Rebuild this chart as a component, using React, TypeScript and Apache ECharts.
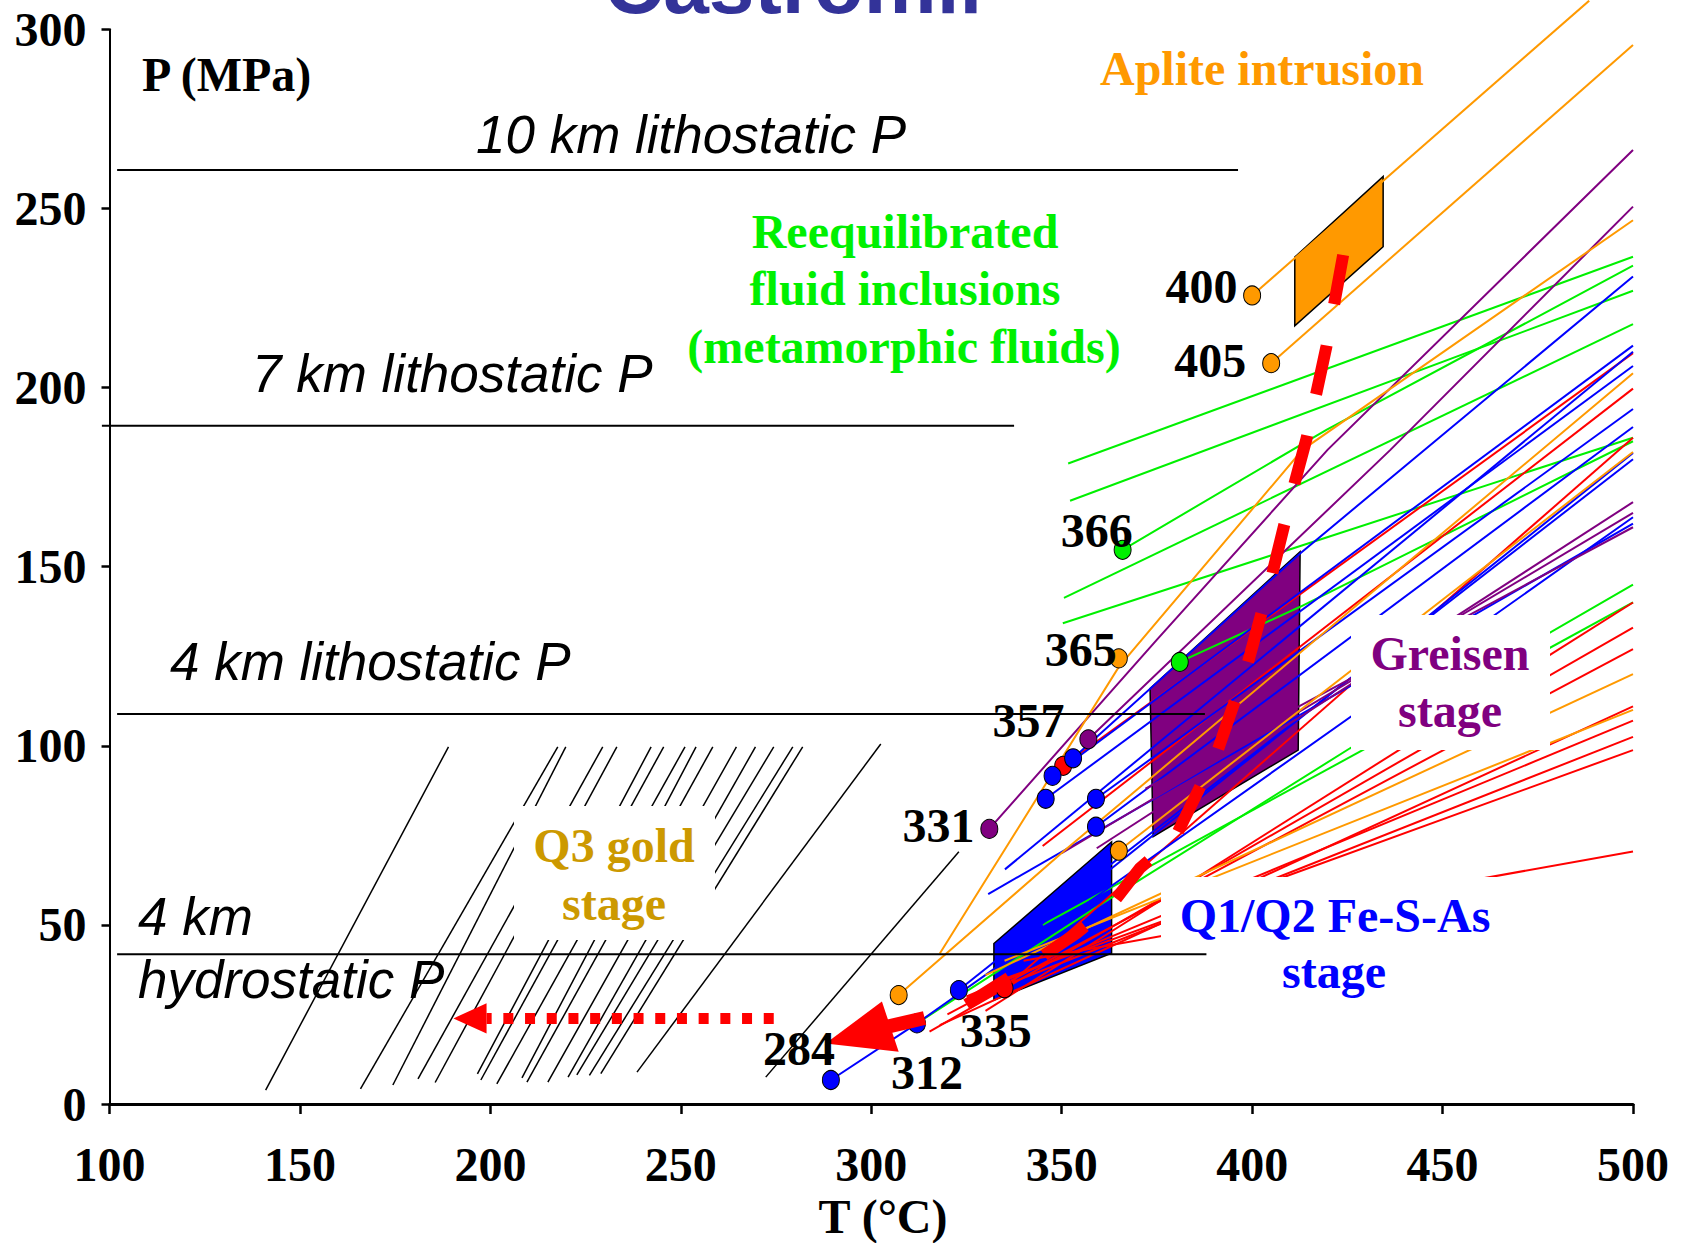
import React, { useEffect, useRef } from "react";
import * as echarts from "echarts";

const SERIF = "'Liberation Serif', 'Times New Roman', Times, serif";
const SANS = "'Liberation Sans', Arial, Helvetica, sans-serif";
const GREEN = "#00f000";

// Axis ranges
const T_MIN = 100;
const T_MAX = 500;
const T_STEP = 50;
const P_MIN = 0;
const P_MAX = 300;
const P_STEP = 50;

// Depth reference pressures (MPa) with the temperature span of each line (°C)
const DEPTH_P = [260.7, 189.3, 108.9, 41.8];
const DEPTH_T_FROM = [102, 98, 102, 102];
const DEPTH_T_TO = [396.3, 337.5, 387.6, 388];

// Q3 gold stage isochores: [T start, P start, T end, P end]
const Q3_ISOCHORES = [
  [141.0, 3.9, 189.0, 99.7],
  [165.9, 4.2, 217.7, 99.7],
  [174.4, 5.3, 219.8, 99.7],
  [181.0, 7.0, 229.5, 99.7],
  [185.5, 6.0, 233.2, 99.7],
  [196.6, 8.4, 242.2, 99.7],
  [197.5, 6.7, 245.5, 99.7],
  [201.7, 5.6, 251.1, 99.7],
  [208.3, 7.3, 254.0, 99.7],
  [209.6, 6.1, 258.4, 99.7],
  [215.1, 6.1, 264.6, 99.7],
  [220.4, 7.5, 269.6, 99.7],
  [222.7, 8.1, 274.4, 99.7],
  [226.0, 8.0, 279.4, 99.7],
  [229.0, 8.5, 282.0, 99.7],
  [238.5, 8.9, 302.5, 100.5],
  [272.3, 7.5, 323.0, 70.4],
];

// Colour-coded isochores as polylines of [T, P]
const ORANGE_ISOCHORES = [
  [[400, 225.7], [488.5, 308]],
  [[405, 206.8], [500, 295.6]],
  [[318, 42], [365, 122], [413.2, 182.6], [500, 246.7]],
  [[365, 70.7], [500, 182]],
  [[307.2, 30.4], [350.9, 70.9], [500, 204]],
  [[330, 36], [500, 120]],
  [[335, 40], [500, 110]],
];
const PURPLE_ISOCHORES = [
  [[331, 76.8], [374.9, 129.5], [419.8, 182.6], [500, 266.3]],
  [[357, 101.8], [436.3, 182.6], [500, 250.5]],
  [[359.2, 71.4], [500, 168]],
  [[372, 88], [500, 161]],
  [[350, 70], [500, 165]],
];
const GREEN_ISOCHORES = [
  [[351.7, 178.8], [500, 236.5]],
  [[352.2, 168.4], [500, 227]],
  [[366, 154.7], [419.5, 188.2], [500, 234]],
  [[350.6, 141.3], [500, 217.7]],
  [[350.3, 134.2], [500, 186]],
  [[381, 123.4], [412.6, 138.8], [500, 185]],
  [[312, 22.5], [361.4, 56.5], [425.7, 99.3], [500, 145]],
  [[345, 50], [500, 140]],
];
const BLUE_ISOCHORES = [
  [[353, 96.5], [412.6, 153.7], [500, 231]],
  [[347.6, 91.6], [500, 211.7]],
  [[345.8, 85.2], [500, 206]],
  [[359, 85.2], [500, 194]],
  [[359, 77.4], [500, 189]],
  [[323, 31.8], [500, 181.7]],
  [[289.4, 6.7], [312, 22.5], [500, 163.8]],
  [[335.1, 65.5], [500, 210]],
  [[330.7, 58.6], [500, 162]],
  [[340, 48], [500, 180]],
];
const RED_ISOCHORES = [
  [[350.4, 94.4], [500, 209.6]],
  [[345, 72], [500, 199.7]],
  [[335, 32.3], [500, 186]],
  [[315.3, 20.2], [500, 133]],
  [[330, 26], [500, 140]],
  [[320, 25], [500, 127]],
  [[325, 30], [500, 107]],
  [[330, 31], [500, 102.5]],
  [[335, 35], [500, 98.8]],
  [[340, 40], [500, 70.5]],
  [[318, 22], [500, 111]],
];

// Homogenisation points [T, P]; the *_LABELLED lists give the indices whose Th is printed
const ORANGE_DOTS = [[400, 225.7], [405, 206.8], [365, 124.4], [365, 70.7], [307.2, 30.4]];
const ORANGE_LABELLED = [0, 1, 2];
const GREEN_DOTS = [[366, 154.7], [381, 123.4]];
const GREEN_LABELLED = [0];
const PURPLE_DOTS = [[331, 76.8], [357, 101.8]];
const PURPLE_LABELLED = [0, 1];
const RED_DOTS = [[350.4, 94.4], [335, 32.3]];
const RED_LABELLED = [1];
const BLUE_DOTS = [[353, 96.5], [347.6, 91.6], [345.8, 85.2], [359, 85.2], [359, 77.4], [312, 22.5], [323, 31.8], [289.4, 6.7]];
const BLUE_LABELLED = [5];

// Stage fields
const APLITE_FIELD = [[411.2, 236.4], [434.4, 258.9], [434.4, 239.3], [411.2, 217.2]];
const GREISEN_FIELD = [[373.2, 116], [412.6, 154.2], [412.1, 98.8], [374, 74.6]];
const Q12_FIELD = [[332.2, 29], [332.2, 44.8], [363.1, 73.2], [363.1, 42.1]];

// Fluid evolution path and the Q3 pressure drop
const EVOLUTION_PATH = [
  [423.9, 237], [419.5, 211.4], [414.3, 185.8], [410.8, 171.9], [405.1, 147.2],
  [398.6, 122.1], [390.7, 97.9], [379.7, 74.2], [370.5, 65.8], [362.7, 55.1],
  [353.9, 47.7], [343.5, 40.2], [322.7, 26.2],
];
const EVOLUTION_SHAFT = [[303.5, 21.4], [314, 24]];
const EVOLUTION_HEAD = [[288, 16.9], [302.8, 28.6], [307.2, 14.6]];
const DROP_PATH = [[274.4, 23.9], [199, 23.9]];
const DROP_HEAD = [[190.3, 23.9], [199, 28.1], [199, 19.7]];

// Th label placement relative to its point, keyed by Th
const LABEL_OFFSETS: Record<number, number[]> = {
  400: [-5.7, -8.7],
  405: [-16, -2.8],
  366: [19, -19.5],
  365: [7, -8.5],
  357: [-14.9, -18.8],
  331: [-5.9, -3.5],
  312: [55, 48.8],
  335: [36.2, 42.2],
};

const FS = 48; // bold serif size used for ticks and annotations

function linesSeries(polylines: number[][][], color: string, width: number, z: number, dash?: number[]) {
  return {
    type: "lines",
    coordinateSystem: "cartesian2d",
    polyline: true,
    silent: true,
    clip: false,
    z,
    lineStyle: { color, width, opacity: 1, type: dash || "solid", cap: "butt" },
    data: polylines.map((coords) => ({ coords })),
  };
}

function dotSeries(points: number[][], labelled: number[], color: string) {
  return {
    type: "scatter",
    silent: true,
    z: 5,
    symbol: "circle",
    symbolSize: [17, 19],
    itemStyle: { color, borderColor: "#000", borderWidth: 1, opacity: 1 },
    label: {
      show: false,
      position: "left",
      distance: 0,
      formatter: (p: any) => String(p.value[0]),
      fontSize: FS,
      fontWeight: "bold",
      fontFamily: SERIF,
      color: "#000",
    },
    data: points.map((pt, i) =>
      labelled.includes(i)
        ? { value: pt, label: { show: true, offset: LABEL_OFFSETS[pt[0]] } }
        : { value: pt }
    ),
  };
}

function polygonSeries(shapes: { pts: number[][]; fill: string; stroke: string }[], z: number) {
  return {
    type: "custom",
    coordinateSystem: "cartesian2d",
    silent: true,
    clip: false,
    z,
    data: shapes.map((s) => s.pts[0]),
    renderItem: (params: any, api: any) => {
      const s = shapes[params.dataIndex];
      return {
        type: "polygon",
        shape: { points: s.pts.map((p) => api.coord(p)) },
        style: { fill: s.fill, stroke: s.stroke, lineWidth: s.stroke === "none" ? 0 : 1.5 },
      };
    },
  };
}

function txt(text: string, x: number, y: number, opts: any) {
  return {
    type: "text",
    z: 101,
    x,
    y,
    silent: true,
    style: {
      text,
      textAlign: opts.align || "left",
      align: opts.align || "left",
      textVerticalAlign: "middle",
      verticalAlign: "middle",
      fill: opts.color || "#000",
      fontSize: opts.size,
      fontFamily: opts.family,
      fontWeight: opts.weight || "normal",
      fontStyle: opts.style || "normal",
      lineHeight: opts.lineHeight,
    },
  };
}

function whiteBox(x: number, y: number, w: number, h: number) {
  return { type: "rect", z: 100, silent: true, shape: { x, y, width: w, height: h }, style: { fill: "#fff" } };
}

function buildOption() {
  const depthLines = DEPTH_P.map((p, i) => [[DEPTH_T_FROM[i], p], [DEPTH_T_TO[i], p]]);
  const q3Lines = Q3_ISOCHORES.map((s) => [[s[0], s[1]], [s[2], s[3]]]);

  const italic = { size: 53, family: SANS, style: "italic" };
  const bold = (color: string) => ({ size: FS, family: SERIF, weight: "bold", color });
  const boldC = (color: string) => ({ size: FS, family: SERIF, weight: "bold", color, align: "center" });

  return {
    animation: false,
    backgroundColor: "#fff",
    grid: { left: 109.5, top: 29.3, right: 51, bottom: 139, containLabel: false },
    xAxis: {
      type: "value",
      min: T_MIN,
      max: T_MAX,
      interval: T_STEP,
      axisLine: { show: true, onZero: false, lineStyle: { color: "#000", width: 3 } },
      axisTick: { show: true, length: 10, lineStyle: { color: "#000", width: 2.5 } },
      axisLabel: { fontSize: FS, fontWeight: "bold", fontFamily: SERIF, color: "#000", margin: 36 },
      splitLine: { show: false },
    },
    yAxis: {
      type: "value",
      min: P_MIN,
      max: P_MAX,
      interval: P_STEP,
      axisLine: { show: true, onZero: false, lineStyle: { color: "#000", width: 2 } },
      axisTick: { show: true, length: 8, lineStyle: { color: "#000", width: 2.5 } },
      axisLabel: { fontSize: FS, fontWeight: "bold", fontFamily: SERIF, color: "#000", margin: 23 },
      splitLine: { show: false },
    },
    series: [
      polygonSeries(
        [
          { pts: APLITE_FIELD, fill: "#ff9900", stroke: "#000" },
          { pts: GREISEN_FIELD, fill: "#800080", stroke: "#000" },
          { pts: Q12_FIELD, fill: "#0000ff", stroke: "#000" },
        ],
        1
      ),
      linesSeries(q3Lines, "#000", 1.5, 2),
      linesSeries(GREEN_ISOCHORES, GREEN, 2, 3),
      linesSeries(RED_ISOCHORES, "#ff0000", 2, 3),
      linesSeries(BLUE_ISOCHORES, "#0000ff", 2, 3),
      linesSeries(PURPLE_ISOCHORES, "#800080", 2, 3),
      linesSeries(ORANGE_ISOCHORES, "#ff9900", 2, 3),
      // depth lines sit above the label panels
      linesSeries(depthLines, "#000", 2, 150),
      dotSeries(ORANGE_DOTS, ORANGE_LABELLED, "#ff9900"),
      dotSeries(GREEN_DOTS, GREEN_LABELLED, GREEN),
      dotSeries(PURPLE_DOTS, PURPLE_LABELLED, "#800080"),
      dotSeries(RED_DOTS, RED_LABELLED, "#ff0000"),
      dotSeries(BLUE_DOTS, BLUE_LABELLED, "#0000ff"),
      linesSeries([EVOLUTION_PATH], "#ff0000", 12, 6, [50, 42]),
      linesSeries([EVOLUTION_SHAFT], "#ff0000", 14, 6),
      linesSeries([DROP_PATH], "#ff0000", 11, 6, [10, 11.7]),
      polygonSeries(
        [
          { pts: EVOLUTION_HEAD, fill: "#ff0000", stroke: "none" },
          { pts: DROP_HEAD, fill: "#ff0000", stroke: "none" },
        ],
        6
      ),
    ],
    graphic: [
      whiteBox(514, 806, 201, 134),
      whiteBox(1351, 615, 199, 135),
      whiteBox(1161, 877, 480, 135),
      txt("Castromil", 604, -15.1, { size: 82, family: SANS, weight: "bold", color: "#333399" }),
      txt("P (MPa)", 142, 74.5, { size: FS, family: SERIF, weight: "bold" }),
      txt("T (°C)", 883, 1216, { size: FS, family: SERIF, weight: "bold", align: "center", lineHeight: 40 }),
      txt("10 km lithostatic P", 476, 134.6, italic),
      txt("7 km lithostatic P", 252, 373.6, italic),
      txt("4 km lithostatic P", 170, 661.6, italic),
      txt("4 km", 138, 916.6, italic),
      txt("hydrostatic P", 138, 979.6, italic),
      txt("Aplite intrusion", 1100, 68.8, bold("#ff9900")),
      txt("Reequilibrated", 905, 231.8, boldC(GREEN)),
      txt("fluid inclusions", 905, 288.8, boldC(GREEN)),
      txt("(metamorphic fluids)", 904, 346.8, boldC(GREEN)),
      txt("Greisen", 1450, 653.8, boldC("#800080")),
      txt("stage", 1450, 710.8, boldC("#800080")),
      txt("Q3 gold", 614, 845.5, boldC("#cc9900")),
      txt("stage", 614, 903.8, boldC("#cc9900")),
      txt("Q1/Q2 Fe-S-As", 1335, 915.8, boldC("#0000ff")),
      txt("stage", 1334, 971.8, boldC("#0000ff")),
      txt("284", 835, 1048.8, { size: FS, family: SERIF, weight: "bold", align: "right" }),
    ],
  };
}

export default function App() {
  const ref = useRef<HTMLDivElement>(null);
  useEffect(() => {
    if (!ref.current) return;
    const chart = echarts.init(ref.current, null, { renderer: "svg" });
    chart.setOption(buildOption() as any);
    return () => chart.dispose();
  }, []);
  return (
    <div
      ref={ref}
      style={{ position: "fixed", left: 0, top: 0, width: 1684, height: 1243, background: "#fff" }}
    />
  );
}
